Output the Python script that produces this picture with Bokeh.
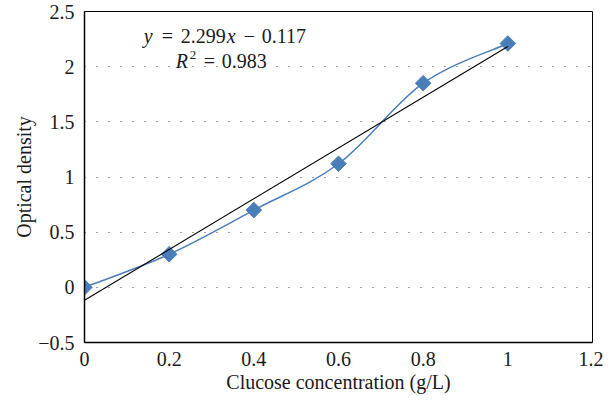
import math
from bokeh.plotting import figure
from bokeh.models import FixedTicker, ColumnDataSource
from bokeh.core.properties import value
from bokeh.embed import file_html
from bokeh.resources import INLINE

# ---- data ----
concentration = [0.0, 0.2, 0.4, 0.6, 0.8, 1.0]
optical_density = [0.0, 0.30, 0.70, 1.12, 1.85, 2.21]
trend_slope = 2.299
trend_intercept = -0.117
trend_x = [0.0, 1.0]
x_ticks = [0.0, 0.2, 0.4, 0.6, 0.8, 1.0, 1.2]
x_tick_labels = ["0", "0.2", "0.4", "0.6", "0.8", "1", "1.2"]
y_ticks = [-0.5, 0.0, 0.5, 1.0, 1.5, 2.0, 2.5]
y_tick_labels = ["\u22120.5", "0", "0.5", "1", "1.5", "2", "2.5"]
grid_ticks = [0.0, 0.5, 1.0, 1.5, 2.0]
x_label = "Clucose concentration (g/L)"
y_label = "Optical density"

SERIF = "Liberation Serif"
BLUE = "#4a7ebb"
TXT = "#1a1a1a"

p = figure(width=603, height=398, output_backend="svg", toolbar_location=None,
           x_range=(0, 1.2), y_range=(-0.5, 2.5),
           min_border_left=84, min_border_right=11, min_border_top=11, min_border_bottom=56)
p.background_fill_color = "white"
p.border_fill_color = "white"
p.outline_line_color = "black"
p.outline_line_width = 1

# axes
p.xaxis.ticker = FixedTicker(ticks=x_ticks)
p.yaxis.ticker = FixedTicker(ticks=y_ticks)
p.xaxis.major_label_overrides = {t: l for t, l in zip(x_ticks, x_tick_labels)}
p.yaxis.major_label_overrides = {t: l for t, l in zip(y_ticks, y_tick_labels)}
for ax in (p.xaxis, p.yaxis):
    ax.major_tick_line_color = None
    ax.minor_tick_line_color = None
    ax.major_tick_out = 0
    ax.major_tick_in = 0
    ax.minor_tick_out = 0
    ax.axis_line_color = "black"
    ax.axis_line_width = 1.5
    ax.major_label_text_font = SERIF
    ax.major_label_text_font_size = "20px"
    ax.major_label_text_color = TXT
    ax.axis_label_text_font = SERIF
    ax.axis_label_text_font_size = "20px"
    ax.axis_label_text_font_style = "normal"
    ax.axis_label_text_color = TXT
p.xaxis.axis_label = x_label
p.yaxis.axis_label = y_label
p.xaxis.major_label_standoff = 9
p.yaxis.major_label_standoff = 10
p.xaxis.axis_label_standoff = 2
p.yaxis.axis_label_standoff = 0

# grid
p.xgrid.visible = False
p.ygrid.ticker = FixedTicker(ticks=grid_ticks)
p.ygrid.grid_line_color = "#404040"
p.ygrid.grid_line_dash = "1 11"
p.ygrid.grid_line_width = 1

# smoothed series (Catmull-Rom style Bezier through the data points)
n = len(concentration)
seg = dict(x0=[], y0=[], x1=[], y1=[], cx0=[], cy0=[], cx1=[], cy1=[])
xs, ys = concentration, optical_density
for i in range(n - 1):
    a = i - 1 if i > 0 else i
    d = i + 2 if i + 2 < n else i + 1
    seg["x0"].append(xs[i]); seg["y0"].append(ys[i])
    seg["x1"].append(xs[i + 1]); seg["y1"].append(ys[i + 1])
    seg["cx0"].append(xs[i] + (xs[i + 1] - xs[a]) / 6)
    seg["cy0"].append(ys[i] + (ys[i + 1] - ys[a]) / 6)
    seg["cx1"].append(xs[i + 1] - (xs[d] - xs[i]) / 6)
    seg["cy1"].append(ys[i + 1] - (ys[d] - ys[i]) / 6)
p.bezier(source=ColumnDataSource(seg), x0="x0", y0="y0", x1="x1", y1="y1",
         cx0="cx0", cy0="cy0", cx1="cx1", cy1="cy1", line_color=BLUE, line_width=1.5)

p.scatter(concentration, optical_density, marker="square", angle=math.pi / 4, size=11,
          fill_color=BLUE, line_color=BLUE)

# linear trendline
trend_y = [trend_slope * x + trend_intercept for x in trend_x]
p.line(trend_x, trend_y, line_color="black", line_width=1.1)

# equation text
ax0, ay0 = 0.140, 2.282
eq_pieces = [
    # text, x_offset, y_offset, style, size
    ("y", 0, 0, "italic", "20px"),
    ("=", 18, 0, "normal", "20px"),
    ("2.299", 37, 0, "normal", "20px"),
    ("x", 83, 0, "italic", "20px"),
    ("\u2212", 100, 0, "normal", "20px"),
    ("0.117", 118, 0, "normal", "20px"),
    ("R", 32, 25, "italic", "20px"),
    ("2", 46, 19, "normal", "13px"),
    ("=", 60, 25, "normal", "20px"),
    ("0.983", 78, 25, "normal", "20px"),
]
for txt, xo, yo, style, size in eq_pieces:
    p.text(x=[ax0], y=[ay0], text=[txt], x_offset=xo, y_offset=yo,
           text_font=value(SERIF), text_font_style=style, text_font_size=size,
           text_color=TXT, text_align="left", text_baseline="alphabetic")

open("out.html", "w").write(file_html(p, INLINE))
